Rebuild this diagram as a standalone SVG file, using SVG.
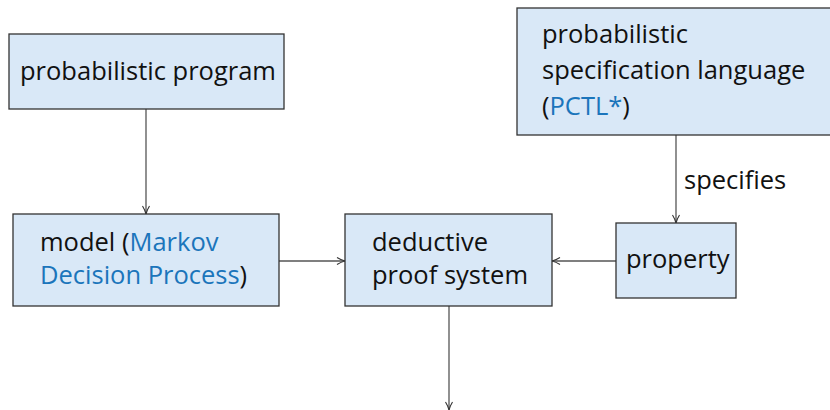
<svg xmlns="http://www.w3.org/2000/svg" width="830" height="410" viewBox="0 0 830 410">
<defs>
<marker id="arr" viewBox="0 0 10 10" refX="9" refY="5" markerWidth="10" markerHeight="10" markerUnits="userSpaceOnUse" orient="auto">
<path d="M1,1.5 Q5,4 9,5 Q5,6 1,8.5" fill="none" stroke="#333" stroke-width="1.1"/>
</marker>
<style>
.box{fill:#d9e8f7;stroke:#333;stroke-width:1.3}
.t{font-family:"Open Sans","Liberation Sans",sans-serif;font-size:25.5px;fill:#111}
.b{fill:#1b75bb}
.c{stroke:#555;stroke-width:1.3;fill:none;marker-end:url(#arr)}
</style>
</defs>
<rect width="830" height="410" fill="#fff"/>
<g id="connectors">
<line class="c" x1="146" y1="109" x2="146" y2="214"/>
<line class="c" x1="676" y1="135" x2="676" y2="223"/>
<line class="c" x1="279" y1="261" x2="345" y2="261"/>
<line class="c" x1="616" y1="261" x2="552" y2="261"/>
<line class="c" x1="449" y1="306" x2="449" y2="410"/>
<text class="t" x="684" y="189">specifies</text>
</g>
<g id="prog">
<rect class="box" x="9" y="34" width="275" height="75"/>
<text class="t" x="20" y="80">probabilistic program</text>
</g>
<g id="spec">
<rect class="box" x="517" y="8" width="320" height="127"/>
<text class="t" x="542" y="43">probabilistic</text>
<text class="t" x="542" y="79">specification language</text>
<text class="t" x="542" y="115">(<tspan class="b">PCTL*</tspan>)</text>
</g>
<g id="model">
<rect class="box" x="13" y="214" width="266" height="92"/>
<text class="t" x="40" y="251">model (<tspan class="b">Markov</tspan></text>
<text class="t" x="40" y="284"><tspan class="b">Decision Process</tspan>)</text>
</g>
<g id="deductive">
<rect class="box" x="345" y="214" width="207" height="92"/>
<text class="t" x="372" y="251">deductive</text>
<text class="t" x="372" y="284">proof system</text>
</g>
<g id="property">
<rect class="box" x="616" y="223" width="120" height="75"/>
<text class="t" x="626" y="268">property</text>
</g>
</svg>
